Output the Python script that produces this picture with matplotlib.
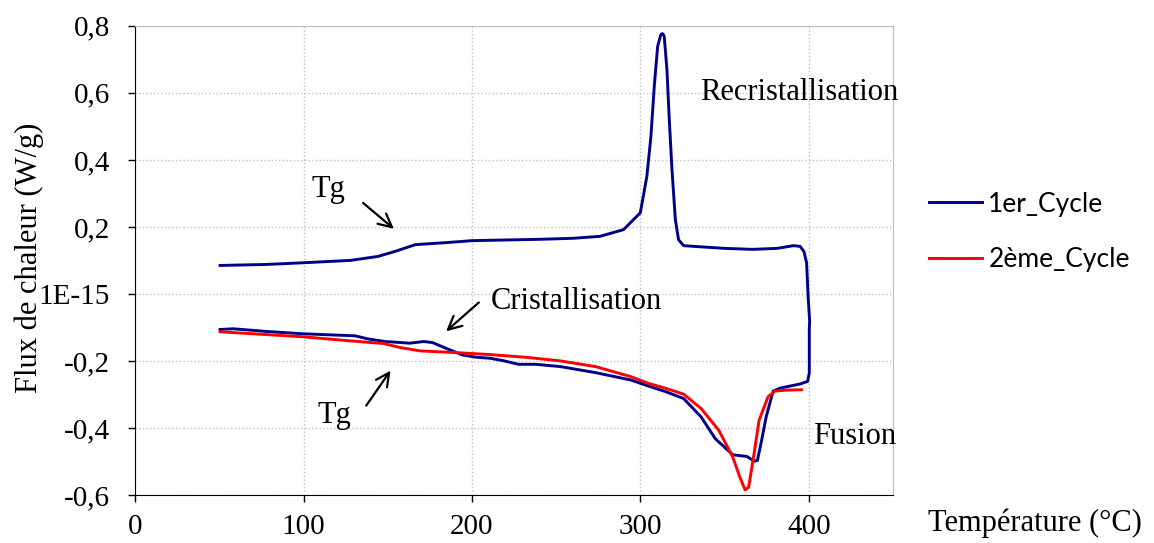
import matplotlib
matplotlib.use('Agg')
import matplotlib.pyplot as plt

# 1er cycle: upper branch 50 -> 400, drop at 400, lower branch back 400 -> 50
cycle1_x = [50.5, 78, 99.8, 127.7, 144.3, 154.4, 166.3, 187.1, 200, 240, 260, 276.1, 290,
            295.9, 299.9, 303.8, 306.2, 308.2, 310.2, 312.1, 313.1, 314.1, 315.7, 317.1, 318.7,
            320.7, 322.6, 325.6, 349.7, 366.5, 381.1, 390.7, 394.7, 397, 398.6, 399.6, 400,
            400.4, 400.2, 400.2, 399.2, 394.5, 382.8, 378.8, 377.8, 374.6, 371.5, 369.4, 367.4,
            363.2, 354.8, 344.4, 336, 325.6, 315.2, 304.8, 294.4, 273.5, 252.7, 238, 227.6,
            219.3, 210.9, 202.6, 194.3, 185.9, 176.5, 171.3, 163, 154.6, 148.4, 138, 130.7,
            100, 78.2, 58.4, 50.5]
cycle1_y = [0.085, 0.088, 0.093, 0.100, 0.112, 0.127, 0.147, 0.154, 0.159, 0.163, 0.166,
            0.172, 0.192, 0.222, 0.242, 0.351, 0.470, 0.620, 0.739, 0.774, 0.777, 0.769, 0.67,
            0.52, 0.371, 0.222, 0.162, 0.144, 0.136, 0.133, 0.136, 0.144, 0.142, 0.127, 0.093,
            -0.017, -0.047, -0.08, -0.106, -0.236, -0.261, -0.269, -0.281, -0.29, -0.307,
            -0.367, -0.447, -0.497, -0.499, -0.485, -0.480, -0.432, -0.367, -0.312, -0.292,
            -0.275, -0.257, -0.235, -0.217, -0.210, -0.210, -0.200, -0.192, -0.189, -0.182,
            -0.165, -0.145, -0.142, -0.147, -0.144, -0.142, -0.134, -0.125, -0.119, -0.112,
            -0.104, -0.106]

cycle2_x = [50.5, 100, 127.5, 147.5, 157.4, 169.2, 190.1, 210.9, 231.8, 252.7, 273.5, 294.4,
            304.8, 315.2, 325.6, 336, 346.5, 354.8, 359, 362.1, 364.2, 367.4, 370.4, 375.7,
            379.8, 386.7, 395.5]
cycle2_y = [-0.113, -0.128, -0.14, -0.148, -0.160, -0.170, -0.175, -0.181, -0.189, -0.200,
            -0.217, -0.247, -0.267, -0.282, -0.299, -0.342, -0.407, -0.487, -0.547, -0.585,
            -0.577, -0.477, -0.377, -0.307, -0.29, -0.287, -0.286]

x_ticks = [0, 100, 200, 300, 400]
y_ticks = [-0.6, -0.4, -0.2, 0.0, 0.2, 0.4, 0.6, 0.8]
y_tick_labels = ['-0,6', '-0,4', '-0,2', '1E-15', '0,2', '0,4', '0,6', '0,8']

serif = 'Liberation Serif'
sans = 'Lato'
fs = 22

fig = plt.figure(figsize=(11.54, 5.43), dpi=100)
ax = fig.add_axes([0.117, 0.0884, 0.657, 0.864])

ax.plot(cycle1_x, cycle1_y, color='#00008B', lw=2.1, label='1er_Cycle')
ax.plot(cycle2_x, cycle2_y, color='#FF0000', lw=2.1, label='2ème_Cycle')

ax.set_xlim(0, 450)
ax.set_ylim(-0.6, 0.8)
ax.set_xticks(x_ticks)
ax.set_xticklabels([str(t) for t in x_ticks], fontsize=21, family=serif)
ax.set_yticks(y_ticks)
ax.set_yticklabels(y_tick_labels, fontsize=21, family=serif)
ax.tick_params(direction='out', length=5, width=1)
ax.tick_params(axis='x', pad=9)
ax.tick_params(axis='y', pad=13)
ax.grid(True, color='#BFBFBF', linestyle=':', linewidth=1)

for side in ['top', 'right']:
    ax.spines[side].set_color('#BFBFBF')
for side in ['left', 'bottom']:
    ax.spines[side].set_color('black')

arrow = dict(arrowstyle='->', color='black', lw=1.6, mutation_scale=24)
ax.annotate('', xy=(154.9, 0.189), xytext=(134.1, 0.277), arrowprops=arrow)
ax.text(114.9, 0.311, 'Tg', fontsize=fs, family=serif, ha='center', va='center')
ax.annotate('', xy=(183.4, -0.117), xytext=(205.3, -0.02), arrowprops=arrow)
ax.text(211.4, -0.023, 'Cristallisation', fontsize=fs, family=serif, ha='left', va='center')
ax.annotate('', xy=(152.6, -0.222), xytext=(136.3, -0.34), arrowprops=arrow)
ax.text(118.1, -0.362, 'Tg', fontsize=fs, family=serif, ha='center', va='center')
ax.text(335.5, 0.6, 'Recristallisation', fontsize=fs, family=serif, ha='left', va='center',
        clip_on=False)
ax.text(402.6, -0.426, 'Fusion', fontsize=fs, family=serif, ha='left', va='center')

fig.text(0.025, 0.526, 'Flux de chaleur (W/g)', rotation=90, fontsize=fs, family=serif,
         ha='center', va='center')
fig.text(0.804, 0.022, 'Température (°C)', fontsize=fs, family=serif, ha='left',
         va='baseline')

leg = fig.legend(loc='center left', bbox_to_anchor=(0.805, 0.573), frameon=False,
                 prop={'family': sans, 'size': 19}, handlelength=2.0, labelspacing=1.15,
                 handletextpad=0.25, borderpad=0, borderaxespad=0)

fig.savefig('out.png', dpi=100)
